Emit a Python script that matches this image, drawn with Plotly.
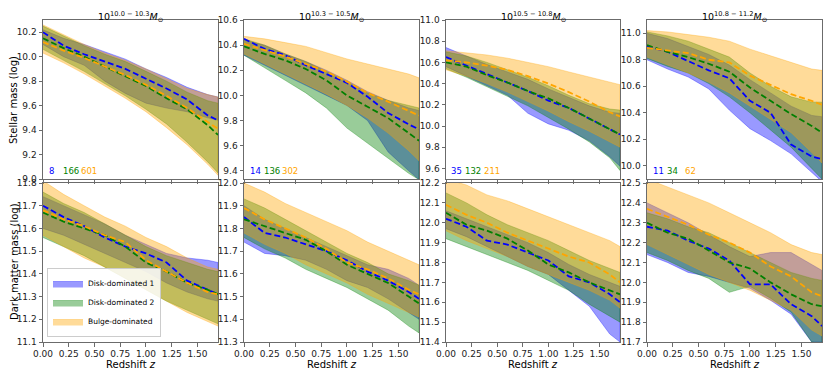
"""
Mass growth histories of disk- and bulge-dominated galaxies, 4 stellar-mass bins
"""

import plotly.graph_objects as go
from plotly.subplots import make_subplots

# redshift grid for the bands and medians
redshift = [0.0, 0.2, 0.4, 0.6, 0.8, 1.0, 1.2, 1.4, 1.6, 1.7]

bin_labels = ['10.0 − 10.3', '10.3 − 10.5', '10.5 − 10.8', '10.8 − 11.2']
counts_d1 = [8, 14, 35, 11]
counts_d2 = [166, 136, 132, 34]
counts_bulge = [601, 302, 211, 62]

series_names = ['Disk-dominated 1', 'Disk-dominated 2', 'Bulge-dominated']

# ---- stellar mass, bin 1
sm1_d1 = dict(med=[10.20, 10.09, 10.02, 9.96, 9.90, 9.82, 9.74, 9.65, 9.52, 9.48],
              lo=[10.10, 10.00, 9.93, 9.80, 9.70, 9.62, 9.58, 9.55, 9.50, 9.48],
              hi=[10.22, 10.15, 10.10, 10.04, 9.98, 9.90, 9.83, 9.75, 9.69, 9.67])
sm1_d2 = dict(med=[10.15, 10.07, 10.00, 9.92, 9.84, 9.76, 9.66, 9.57, 9.44, 9.36],
              lo=[10.06, 9.97, 9.88, 9.78, 9.68, 9.57, 9.45, 9.30, 9.14, 9.05],
              hi=[10.25, 10.17, 10.09, 10.02, 9.96, 9.88, 9.80, 9.71, 9.64, 9.62])
sm1_bu = dict(med=[10.12, 10.05, 9.99, 9.92, 9.85, 9.77, 9.68, 9.58, 9.47, 9.41],
              lo=[10.03, 9.95, 9.86, 9.76, 9.66, 9.55, 9.42, 9.28, 9.12, 9.03],
              hi=[10.26, 10.18, 10.10, 10.03, 9.97, 9.90, 9.82, 9.74, 9.69, 9.67])

# ---- stellar mass, bin 2
sm2_d1 = dict(med=[10.45, 10.37, 10.32, 10.24, 10.17, 10.10, 9.99, 9.86, 9.77, 9.73],
              lo=[10.32, 10.24, 10.16, 10.08, 10.00, 9.92, 9.80, 9.55, 9.40, 9.33],
              hi=[10.44, 10.40, 10.33, 10.27, 10.20, 10.12, 10.03, 9.96, 9.90, 9.88])
sm2_d2 = dict(med=[10.39, 10.33, 10.28, 10.21, 10.12, 10.00, 9.91, 9.82, 9.70, 9.64],
              lo=[10.32, 10.22, 10.12, 10.02, 9.90, 9.74, 9.62, 9.50, 9.38, 9.33],
              hi=[10.45, 10.40, 10.33, 10.27, 10.19, 10.11, 10.02, 9.96, 9.92, 9.90])
sm2_bu = dict(med=[10.41, 10.36, 10.31, 10.25, 10.19, 10.11, 10.02, 9.95, 9.88, 9.84],
              lo=[10.33, 10.25, 10.17, 10.09, 10.01, 9.92, 9.82, 9.70, 9.56, 9.48],
              hi=[10.47, 10.45, 10.42, 10.39, 10.34, 10.29, 10.25, 10.21, 10.17, 10.14])

# ---- stellar mass, bin 3
sm3_d1 = dict(med=[10.65, 10.57, 10.49, 10.41, 10.33, 10.24, 10.17, 10.07, 9.97, 9.92],
              lo=[10.56, 10.47, 10.38, 10.29, 10.12, 10.02, 9.96, 9.86, 9.71, 9.62],
              hi=[10.74, 10.66, 10.58, 10.51, 10.44, 10.35, 10.27, 10.19, 10.13, 10.12])
sm3_d2 = dict(med=[10.60, 10.56, 10.48, 10.41, 10.33, 10.26, 10.17, 10.07, 9.97, 9.92],
              lo=[10.54, 10.46, 10.37, 10.28, 10.19, 10.08, 9.97, 9.85, 9.70, 9.58],
              hi=[10.70, 10.66, 10.60, 10.53, 10.46, 10.38, 10.29, 10.21, 10.16, 10.15])
sm3_bu = dict(med=[10.62, 10.60, 10.57, 10.53, 10.47, 10.40, 10.32, 10.23, 10.13, 10.09],
              lo=[10.53, 10.47, 10.40, 10.32, 10.23, 10.14, 10.04, 9.95, 9.85, 9.80],
              hi=[10.71, 10.69, 10.67, 10.64, 10.60, 10.56, 10.51, 10.46, 10.41, 10.39])

# ---- stellar mass, bin 4
sm4_d1 = dict(med=[10.90, 10.86, 10.79, 10.72, 10.66, 10.49, 10.40, 10.16, 10.07, 10.05],
              lo=[10.80, 10.73, 10.67, 10.58, 10.42, 10.28, 10.19, 10.09, 9.95, 9.88],
              hi=[11.00, 10.96, 10.90, 10.84, 10.76, 10.65, 10.55, 10.45, 10.38, 10.37])
sm4_d2 = dict(med=[10.91, 10.86, 10.82, 10.77, 10.71, 10.59, 10.49, 10.39, 10.30, 10.25],
              lo=[10.81, 10.75, 10.70, 10.62, 10.52, 10.40, 10.27, 10.14, 9.98, 9.90],
              hi=[11.01, 10.98, 10.94, 10.88, 10.82, 10.70, 10.60, 10.52, 10.48, 10.48])
sm4_bu = dict(med=[10.89, 10.87, 10.85, 10.80, 10.78, 10.68, 10.61, 10.54, 10.49, 10.46],
              lo=[10.82, 10.76, 10.70, 10.63, 10.55, 10.45, 10.35, 10.25, 10.10, 10.02],
              hi=[11.02, 11.01, 10.99, 10.97, 10.94, 10.88, 10.83, 10.78, 10.73, 10.72])

# ---- dark matter mass, bin 1
dm1_d1 = dict(med=[11.70, 11.65, 11.61, 11.56, 11.52, 11.49, 11.45, 11.37, 11.33, 11.31],
              lo=[11.60, 11.57, 11.53, 11.49, 11.45, 11.41, 11.36, 11.32, 11.29, 11.28],
              hi=[11.74, 11.70, 11.66, 11.62, 11.57, 11.53, 11.49, 11.47, 11.46, 11.45])
dm1_d2 = dict(med=[11.67, 11.63, 11.60, 11.57, 11.52, 11.45, 11.41, 11.36, 11.33, 11.31],
              lo=[11.56, 11.52, 11.48, 11.43, 11.38, 11.33, 11.28, 11.24, 11.20, 11.18],
              hi=[11.76, 11.71, 11.67, 11.62, 11.57, 11.52, 11.48, 11.45, 11.42, 11.41])
dm1_bu = dict(med=[11.68, 11.64, 11.61, 11.57, 11.54, 11.46, 11.41, 11.36, 11.32, 11.31],
              lo=[11.57, 11.52, 11.47, 11.43, 11.38, 11.33, 11.28, 11.23, 11.19, 11.17],
              hi=[11.81, 11.75, 11.70, 11.65, 11.61, 11.56, 11.52, 11.47, 11.43, 11.42])

# ---- dark matter mass, bin 2
dm2_d1 = dict(med=[11.85, 11.78, 11.76, 11.73, 11.70, 11.66, 11.61, 11.57, 11.52, 11.49],
              lo=[11.74, 11.69, 11.68, 11.66, 11.62, 11.57, 11.54, 11.49, 11.43, 11.40],
              hi=[11.90, 11.84, 11.80, 11.76, 11.72, 11.68, 11.64, 11.62, 11.58, 11.55])
dm2_d2 = dict(med=[11.84, 11.81, 11.78, 11.75, 11.70, 11.64, 11.60, 11.56, 11.50, 11.47],
              lo=[11.76, 11.71, 11.67, 11.62, 11.58, 11.54, 11.49, 11.44, 11.37, 11.34],
              hi=[11.93, 11.89, 11.84, 11.79, 11.74, 11.69, 11.65, 11.60, 11.57, 11.55])
dm2_bu = dict(med=[11.89, 11.84, 11.80, 11.76, 11.71, 11.65, 11.62, 11.58, 11.53, 11.51],
              lo=[11.78, 11.73, 11.69, 11.64, 11.60, 11.56, 11.51, 11.47, 11.43, 11.41],
              hi=[12.00, 11.96, 11.91, 11.87, 11.83, 11.79, 11.74, 11.70, 11.66, 11.64])

# ---- dark matter mass, bin 3
dm3_d1 = dict(med=[12.02, 11.98, 11.91, 11.89, 11.85, 11.81, 11.73, 11.70, 11.64, 11.60],
              lo=[11.97, 11.93, 11.88, 11.83, 11.78, 11.74, 11.66, 11.58, 11.44, 11.40],
              hi=[12.06, 12.02, 11.98, 11.94, 11.90, 11.85, 11.79, 11.74, 11.70, 11.68])
dm3_d2 = dict(med=[12.05, 11.99, 11.96, 11.92, 11.86, 11.79, 11.75, 11.70, 11.66, 11.64],
              lo=[11.92, 11.88, 11.84, 11.80, 11.76, 11.71, 11.66, 11.59, 11.53, 11.50],
              hi=[12.15, 12.10, 12.04, 11.99, 11.95, 11.91, 11.86, 11.81, 11.77, 11.75])
dm3_bu = dict(med=[12.09, 12.04, 12.00, 11.95, 11.91, 11.87, 11.83, 11.80, 11.74, 11.70],
              lo=[11.96, 11.91, 11.87, 11.83, 11.78, 11.74, 11.70, 11.66, 11.61, 11.57],
              hi=[12.22, 12.19, 12.14, 12.11, 12.07, 12.03, 11.99, 11.95, 11.91, 11.88])

# ---- dark matter mass, bin 4
dm4_d1 = dict(med=[12.28, 12.26, 12.21, 12.17, 12.11, 11.99, 11.99, 11.89, 11.83, 11.78],
              lo=[12.14, 12.10, 12.05, 12.03, 12.00, 11.97, 11.91, 11.84, 11.70, 11.70],
              hi=[12.40, 12.35, 12.30, 12.24, 12.18, 12.13, 12.15, 12.15, 12.09, 12.06])
dm4_d2 = dict(med=[12.30, 12.25, 12.22, 12.16, 12.10, 12.07, 12.00, 11.94, 11.89, 11.88],
              lo=[12.15, 12.11, 12.06, 12.02, 11.95, 11.98, 11.92, 11.85, 11.70, 11.69],
              hi=[12.35, 12.32, 12.28, 12.25, 12.20, 12.15, 12.10, 12.05, 12.02, 12.01])
dm4_bu = dict(med=[12.37, 12.33, 12.29, 12.24, 12.20, 12.15, 12.08, 12.03, 11.95, 11.93],
              lo=[12.19, 12.14, 12.09, 12.04, 12.00, 11.96, 11.91, 11.86, 11.76, 11.73],
              hi=[12.52, 12.48, 12.44, 12.40, 12.35, 12.30, 12.25, 12.19, 12.15, 12.14])

panels = [
    [sm1_d1, sm1_d2, sm1_bu], [sm2_d1, sm2_d2, sm2_bu],
    [sm3_d1, sm3_d2, sm3_bu], [sm4_d1, sm4_d2, sm4_bu],
    [dm1_d1, dm1_d2, dm1_bu], [dm2_d1, dm2_d2, dm2_bu],
    [dm3_d1, dm3_d2, dm3_bu], [dm4_d1, dm4_d2, dm4_bu],
]

# y ranges (log mass) и тики
y_ranges = [[9.0, 10.3], [9.335, 10.6], [9.5, 11.0], [9.9, 11.1],
            [11.1, 11.8], [11.3, 12.0], [11.4, 12.2], [11.7, 12.5]]
y_tick0 = [9.0, 9.4, 9.6, 10.0, 11.1, 11.3, 11.4, 11.7]
y_dtick = [0.2, 0.2, 0.2, 0.2, 0.1, 0.1, 0.1, 0.1]

line_colors = ['blue', 'green', 'orange']
fill_colors = ['rgba(0,0,255,0.4)', 'rgba(0,128,0,0.4)', 'rgba(255,165,0,0.4)']

# страница сдвигает график на 8px (margin у body), поэтому всё смещаем
OFF = 8
W, H = 831 - OFF, 375 - OFF
x_px = [(43, 218), (244, 419), (446, 620), (647, 822)]
y_px = [(20, 179), (183, 342)]


def px_x(x):
    return (x - OFF) / W


def px_y(y):
    return 1 - (y - OFF) / H


fig = make_subplots(rows=2, cols=4)

for p, series in enumerate(panels):
    row, col = p // 4 + 1, p % 4 + 1
    # bands first
    for s, d in enumerate(series):
        fig.add_trace(go.Scatter(
            x=redshift + redshift[::-1],
            y=d['hi'] + d['lo'][::-1],
            fill='toself', fillcolor=fill_colors[s],
            line=dict(width=0.8, color=fill_colors[s]),
            mode='lines', name=series_names[s],
            showlegend=(p == 4), legendgroup=series_names[s],
            hoverinfo='skip'
        ), row=row, col=col)
    # medians on top
    for s, d in enumerate(series):
        fig.add_trace(go.Scatter(
            x=redshift, y=d['med'], mode='lines',
            line=dict(width=1.8, color=line_colors[s], dash='6px,3px'),
            showlegend=False, legendgroup=series_names[s]
        ), row=row, col=col)

axis_style = dict(showline=True, mirror=True, linecolor='#6b6b6b', linewidth=1,
                  ticks='outside', ticklen=3.5, tickcolor='#6b6b6b',
                  showgrid=False, zeroline=False, automargin=False,
                  tickfont=dict(size=9, color='#222'))

for p in range(8):
    r, c = p // 4, p % 4
    xa = 'xaxis' if p == 0 else f'xaxis{p + 1}'
    ya = 'yaxis' if p == 0 else f'yaxis{p + 1}'
    x0, x1 = x_px[c]
    yt, yb = y_px[r]
    fig.update_layout({
        xa: dict(axis_style, domain=[px_x(x0), px_x(x1)], range=[0, 1.7],
                 tick0=0, dtick=0.25, tickformat='.2f',
                 showticklabels=(r == 1)),
        ya: dict(axis_style, domain=[px_y(yb), px_y(yt)], range=y_ranges[p],
                 tick0=y_tick0[p], dtick=y_dtick[p], tickformat='.1f'),
    })

annotations = []
for c in range(4):
    x0, x1 = x_px[c]
    annotations.append(dict(
        x=px_x((x0 + x1) / 2), y=1.0, xref='paper', yref='paper',
        xanchor='center', yanchor='top',
        text=f'10<sup>{bin_labels[c]}</sup><i>M</i><sub>⊙</sub>',
        showarrow=False, font=dict(size=9.5, color='black')
    ))
    # число галактик в каждой группе
    xref = 'x domain' if c == 0 else f'x{c + 1} domain'
    yref = 'y domain' if c == 0 else f'y{c + 1} domain'
    for txt, pos, col in [(counts_d1[c], 0.02, 'blue'),
                          (counts_d2[c], 0.10, 'green'),
                          (counts_bulge[c], 0.205, 'orange')]:
        annotations.append(dict(
            x=pos, y=0.05, xref=xref, yref=yref, text=str(txt),
            xanchor='left', yanchor='middle', showarrow=False,
            font=dict(size=8.5, color=col)
        ))
    annotations.append(dict(
        x=px_x((x0 + x1) / 2), y=px_y(364), xref='paper', yref='paper',
        xanchor='center', yanchor='middle',
        text='Redshift <i>z</i>', showarrow=False,
        font=dict(size=10, color='black')
    ))

annotations.append(dict(
    x=px_x(14), y=px_y(100), xref='paper', yref='paper',
    xanchor='center', yanchor='middle',
    text='Stellar mass (log)', textangle=-90, showarrow=False,
    font=dict(size=10, color='black')
))
annotations.append(dict(
    x=px_x(14), y=px_y(262), xref='paper', yref='paper',
    xanchor='center', yanchor='middle',
    text='Dark matter mass (log)', textangle=-90, showarrow=False,
    font=dict(size=10, color='black')
))

fig.update_layout(
    width=W, height=H,
    margin=dict(l=0, r=0, t=0, b=0, autoexpand=False),
    paper_bgcolor='white', plot_bgcolor='white',
    font=dict(family='DejaVu Sans', size=9, color='black'),
    annotations=annotations,
    showlegend=True,
    legend=dict(x=px_x(47), y=px_y(337), xanchor='left', yanchor='bottom',
                bgcolor='rgba(255,255,255,0.85)', bordercolor='#cccccc',
                borderwidth=1, font=dict(size=7.5), tracegroupgap=0,
                itemwidth=30)
)

fig.write_html("out.html")
